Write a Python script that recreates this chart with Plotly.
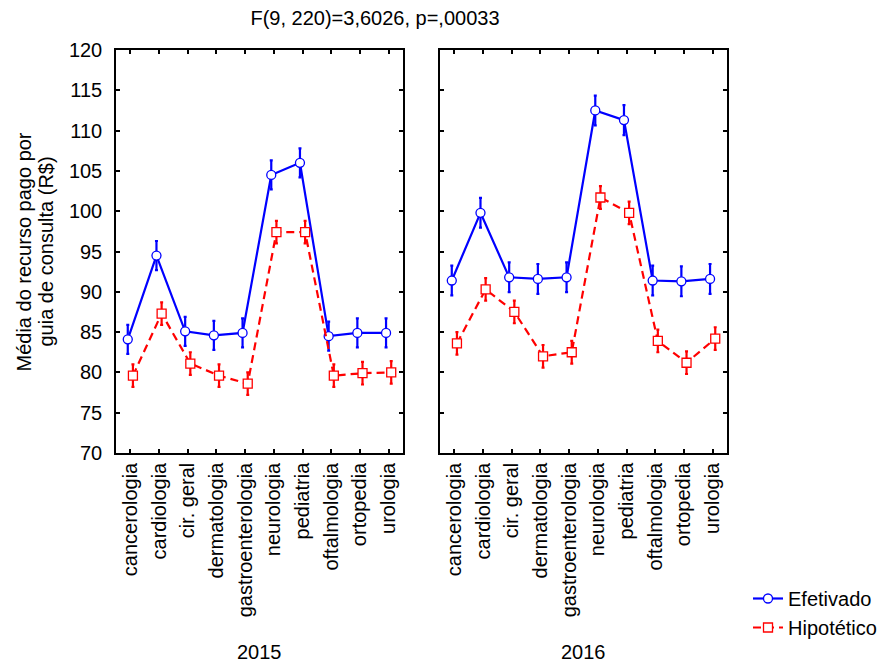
import plotly.graph_objects as go
from plotly.subplots import make_subplots

categories = ["cancerologia", "cardiologia", "cir. geral", "dermatologia", "gastroenterologia",
              "neurologia", "pediatria", "oftalmologia", "ortopedia", "urologia"]
years = ["2015", "2016"]

efetivado_2015 = [84.1, 94.5, 85.1, 84.6, 84.9, 104.5, 106.0, 84.5, 84.9, 84.9]
efetivado_2015_err = [1.8, 1.8, 1.8, 1.8, 1.8, 1.8, 1.8, 1.8, 1.8, 1.8]
hipotetico_2015 = [79.6, 87.3, 81.1, 79.6, 78.6, 97.4, 97.4, 79.6, 79.9, 80.0]
hipotetico_2015_err = [1.4, 1.4, 1.4, 1.4, 1.4, 1.4, 1.4, 1.4, 1.4, 1.4]

efetivado_2016 = [91.4, 99.8, 91.8, 91.6, 91.8, 112.5, 111.3, 91.4, 91.3, 91.6]
efetivado_2016_err = [1.85, 1.85, 1.85, 1.85, 1.85, 1.85, 1.85, 1.85, 1.85, 1.85]
hipotetico_2016 = [83.6, 90.3, 87.5, 82.0, 82.5, 101.7, 99.8, 83.9, 81.2, 84.2]
hipotetico_2016_err = [1.4, 1.4, 1.4, 1.4, 1.4, 1.4, 1.4, 1.4, 1.4, 1.4]

title_text = "F(9, 220)=3,6026, p=,00033"
y_title_lines = ["Média do recurso pago por", "guia de consulta (R$)"]
y_ticks = [70, 75, 80, 85, 90, 95, 100, 105, 110, 115, 120]

BLUE = "#0000FF"
RED = "#FF0000"
FONT = "Liberation Sans, Arial, sans-serif"
FS = 20

W, H = 880, 656  # page body has an 8px margin

fig = make_subplots(rows=1, cols=2, shared_yaxes=False, horizontal_spacing=0.0606)

series = [
    (efetivado_2015, efetivado_2015_err, hipotetico_2015, hipotetico_2015_err),
    (efetivado_2016, efetivado_2016_err, hipotetico_2016, hipotetico_2016_err),
]

for i, (ev, ee, hv, he) in enumerate(series):
    col = i + 1
    fig.add_trace(go.Scatter(
        x=categories, y=ev, name="Efetivado", mode="lines+markers",
        line=dict(color=BLUE, width=2.2),
        marker=dict(symbol="circle", size=9, color="white", line=dict(color=BLUE, width=1.3)),
        error_y=dict(type="data", array=ee, visible=True, color=BLUE, thickness=2.2, width=1.5),
        offsetgroup="a", showlegend=(i == 0), legendgroup="a",
    ), row=1, col=col)
    fig.add_trace(go.Scatter(
        x=categories, y=hv, name="Hipotético", mode="lines+markers",
        line=dict(color=RED, width=2.2, dash="8px,5px"),
        marker=dict(symbol="square", size=9, color="white", line=dict(color=RED, width=1.3)),
        error_y=dict(type="data", array=he, visible=True, color=RED, thickness=2.2, width=1.5),
        offsetgroup="b", showlegend=(i == 0), legendgroup="b",
    ), row=1, col=col)

axis_common = dict(showline=True, linecolor="black", linewidth=1.5, mirror="ticks",
                   ticks="inside", ticklen=4, tickcolor="black", tickwidth=1.5,
                   showgrid=False, zeroline=False,
                   tickfont=dict(family=FONT, size=FS, color="black"))

fig.update_xaxes(**axis_common, type="category", categoryorder="array", categoryarray=categories,
                 tickangle=-90, range=[-0.5, 9.5])
fig.update_yaxes(**axis_common, range=[70, 120], tickvals=y_ticks)
fig.update_yaxes(ticklabelstandoff=8, row=1, col=1)
fig.update_yaxes(showticklabels=False, row=1, col=2)

fig.update_layout(
    width=W, height=H,
    margin=dict(l=108, r=161, t=42, b=211),
    paper_bgcolor="white", plot_bgcolor="white",
    font=dict(family=FONT, size=FS, color="black"),
    scattermode="group", scattergap=0.64,
    title=dict(text=title_text, x=367 / W, xref="container", xanchor="center",
               y=1 - 10 / H, yref="container", yanchor="middle",
               font=dict(family=FONT, size=FS, color="black")),
    legend=dict(x=740 / W, xref="container", y=1 - 571 / H, yref="container",
                xanchor="left", yanchor="top", bgcolor="rgba(0,0,0,0)",
                font=dict(family=FONT, size=FS, color="black"),
                tracegroupgap=0, itemwidth=30),
    showlegend=True,
)

dom1 = fig.layout.xaxis.domain
dom2 = fig.layout.xaxis2.domain
for yr, dom in zip(years, [dom1, dom2]):
    fig.add_annotation(text=yr, x=(dom[0] + dom[1]) / 2, xref="paper",
                       y=-(652 - 453) / 403, yref="paper", showarrow=False,
                       xanchor="center", yanchor="middle",
                       font=dict(family=FONT, size=FS, color="black"))

for line, px in zip(y_title_lines, [23, 45]):
    fig.add_annotation(text=line, x=(px - 116) / 611, xref="paper", y=0.5, yref="paper",
                       textangle=-90, showarrow=False, xanchor="center", yanchor="middle",
                       font=dict(family=FONT, size=FS, color="black"))

fig.write_html("out.html")
